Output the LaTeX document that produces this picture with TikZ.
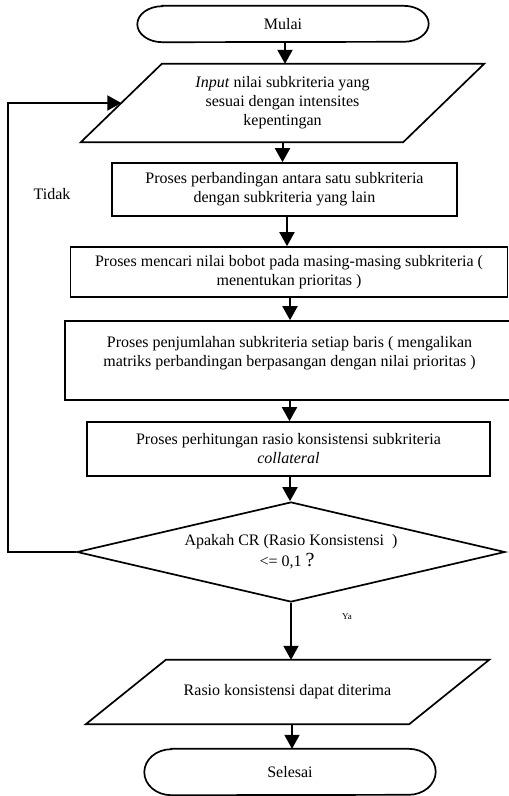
\documentclass[tikz,border=0pt]{standalone}
\usepackage{fontspec}
\setmainfont{Liberation Serif}
\usetikzlibrary{arrows.meta,shapes.geometric}
\begin{document}
\begin{tikzpicture}[x=1pt,y=1pt,
  every node/.style={font=\fontsize{16}{19}\selectfont, inner sep=0pt, align=center},
  procbox/.style={draw, line width=1.7pt, rectangle},
  hidden/.style={rectangle, draw=none},
  decision/.style={draw, line width=1.7pt, diamond, aspect=4.28},
  outline/.style={line width=1.7pt, line join=miter},
  arr/.style={line width=2pt, -{Triangle[width=15pt,length=14pt]}},
  small/.style={font=\fontsize{9}{11}\selectfont}
]
\useasboundingbox (0,0) rectangle (509,-796);

% terminals
\node[hidden, minimum width=291pt, minimum height=36pt] (mulai) at (283,-24) {Mulai};
\draw[outline] ([xshift=25pt]mulai.north west) -- ([xshift=-25pt]mulai.north east)
  arc[start angle=90, end angle=-90, x radius=25pt, y radius=18pt]
  -- ([xshift=25pt]mulai.south west)
  arc[start angle=270, end angle=90, x radius=25pt, y radius=18pt] -- cycle;

% input parallelogram
\node[hidden, minimum width=322pt, minimum height=78pt] (in1) at (282.5,-103)
  {\raisebox{-4pt}{\begin{tabular}{@{}c@{}}\textit{Input} nilai subkriteria yang\\ sesuai dengan intensites\\ kepentingan\end{tabular}}};
\draw[outline] ([xshift=40.5pt]in1.north west) -- ([xshift=40.5pt]in1.north east)
  -- ([xshift=-40.5pt]in1.south east) -- ([xshift=-40.5pt]in1.south west) -- cycle;

% process boxes
\node[procbox, minimum width=345pt, minimum height=53pt] (b1) at (284.5,-189.5)
  {Proses perbandingan antara satu subkriteria\\ dengan subkriteria yang lain};
\node[procbox, minimum width=437pt, minimum height=50pt] (b2) at (289,-272)
  {\raisebox{-4pt}{\begin{tabular}{@{}c@{}}Proses mencari nilai bobot pada masing-masing subkriteria (\\ menentukan prioritas )\end{tabular}}};
\node[procbox, minimum width=449pt, minimum height=79pt] (b3) at (289.5,-360.5)
  {Proses penjumlahan subkriteria setiap baris ( mengalikan\\ matriks perbandingan berpasangan dengan nilai prioritas )\\ \mbox{}};
\node[procbox, minimum width=403pt, minimum height=54pt] (b4) at (288.5,-449)
  {Proses perhitungan rasio konsistensi subkriteria\\ \textit{collateral}};

% decision
\node[decision, minimum width=428pt, minimum height=100pt] (d) at (291,-552)
  {Apakah CR (Rasio Konsistensi~ )\\[2pt] \hspace*{-8pt}<= 0,1 {\fontsize{20}{19}\selectfont ?}};

% output parallelogram
\node[hidden, minimum width=323pt, minimum height=64pt] (p2) at (287.5,-692)
  {Rasio konsistensi dapat diterima};
\draw[outline] ([xshift=40pt]p2.north west) -- ([xshift=40pt]p2.north east)
  -- ([xshift=-40pt]p2.south east) -- ([xshift=-40pt]p2.south west) -- cycle;

% end terminal
\node[hidden, minimum width=291pt, minimum height=46pt] (selesai) at (290,-772) {Selesai};
\draw[outline] ([xshift=27pt]selesai.north west) -- ([xshift=-27pt]selesai.north east)
  arc[start angle=90, end angle=-90, x radius=27pt, y radius=23pt]
  -- ([xshift=27pt]selesai.south west)
  arc[start angle=270, end angle=90, x radius=27pt, y radius=23pt] -- cycle;

% connectors
\draw[arr] ([xshift=2pt]mulai.south) -- ([xshift=2pt]mulai.south |- in1.north);
\draw[arr] (in1.south) -- (in1.south |- b1.north);
\draw[arr] ([xshift=2.5pt]b1.south) -- ([xshift=2.5pt]b1.south |- b2.north);
\draw[arr] ([xshift=1pt]b2.south) -- ([xshift=1pt]b2.south |- b3.north);
\draw[arr] (b3.south) -- (b3.south |- b4.north);
\draw[arr] ([xshift=1.5pt]b4.south) -- ([xshift=1.5pt]b4.south |- d.north);
\draw[arr] (d.south) -- (d.south |- p2.north);
\draw[arr] ([xshift=4.5pt]p2.south) -- ([xshift=4.5pt]p2.south |- selesai.north);

% loop back
\coordinate (lp) at (8,-552);
\draw[arr] (d.west) -- (lp) |- (in1.west);

% labels
\node (tidak) at (52,-194) {Tidak};
\node[small] (ya) at (347,-617) {Ya};
\end{tikzpicture}
\end{document}
